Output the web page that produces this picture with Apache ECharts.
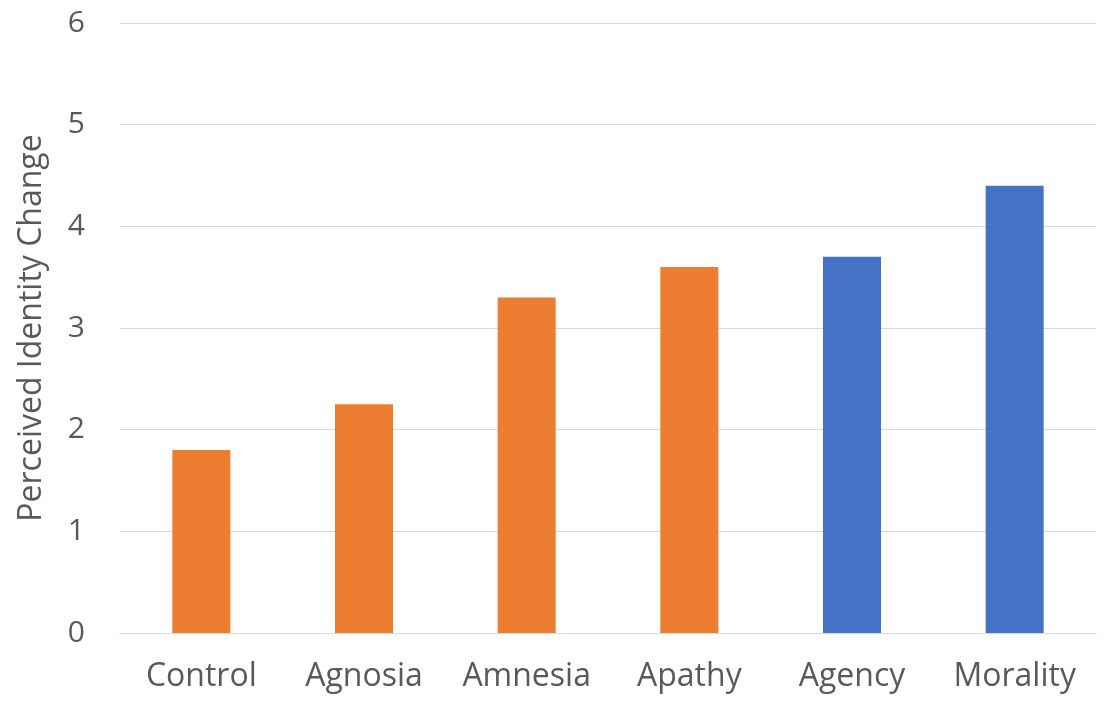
<!DOCTYPE html>
<html>
<head>
<meta charset="utf-8">
<script src="https://cdn.jsdelivr.net/npm/echarts@6/dist/echarts.min.js"></script>
<style>html,body{margin:0;padding:0;background:#fff;}#c{width:1112px;height:713px;}</style>
</head>
<body>
<div id="c"></div>
<script>
const categories = ['Control', 'Agnosia', 'Amnesia', 'Apathy', 'Agency', 'Morality'];
const values = [1.8, 2.25, 3.3, 3.6, 3.7, 4.4];
const barColors = ['#ED7D31', '#ED7D31', '#ED7D31', '#ED7D31', '#4472C4', '#4472C4'];
const yTicks = { min: 0, max: 6, interval: 1 };
const yName = 'Perceived Identity Change';

const chart = echarts.init(document.getElementById('c'));
const font = '"Open Sans", sans-serif';
chart.setOption({
  animation: false,
  grid: { left: 120, right: 16, top: 23, bottom: 80 },
  xAxis: {
    type: 'category',
    data: categories,
    axisLine: { show: true, lineStyle: { color: '#D9D9D9', width: 1 } },
    axisTick: { show: false },
    axisLabel: { color: '#595959', fontSize: 32, fontFamily: font, margin: 28, interval: 0, hideOverlap: false }
  },
  yAxis: {
    type: 'value',
    min: yTicks.min, max: yTicks.max, interval: yTicks.interval,
    name: yName,
    nameLocation: 'middle',
    nameGap: 72,
    nameTextStyle: { color: '#595959', fontSize: 32, fontFamily: font },
    axisLine: { show: false },
    axisTick: { show: false },
    splitLine: { lineStyle: { color: '#D9D9D9', width: 1 } },
    axisLabel: { color: '#595959', fontSize: 30, fontFamily: font, margin: 35 }
  },
  series: [{
    type: 'bar',
    data: values.map((v, i) => ({ value: v, itemStyle: { color: barColors[i] } })),
    barWidth: 58
  }]
});
</script>
</body>
</html>
